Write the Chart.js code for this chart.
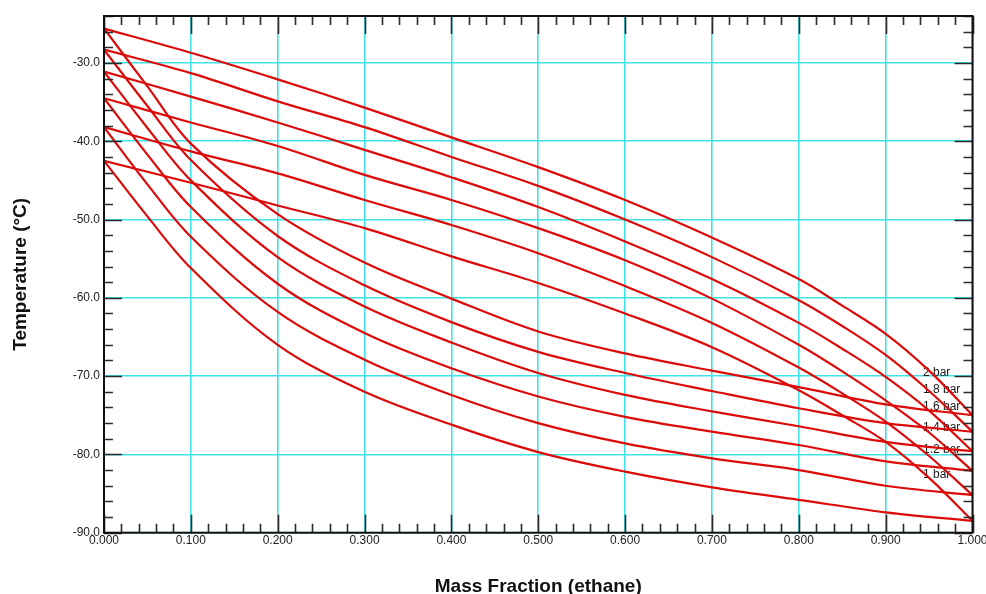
<!DOCTYPE html>
<html>
<head>
<meta charset="utf-8">
<title>Ethane / propane phase envelopes</title>
<script src="https://cdn.jsdelivr.net/npm/chart.js@4/dist/chart.umd.min.js"></script>
<style>
  html, body { margin: 0; padding: 0; background: #fff; overflow: hidden; }
  canvas { display: block; }
</style>
</head>
<body>
<canvas id="chart" width="986" height="594"></canvas>
<script>
// Mass fraction of ethane at which the curves are tabulated
const xDew    = [0, 0.1, 0.2, 0.3, 0.4, 0.5, 0.6, 0.7, 0.8, 0.85, 0.9, 0.95, 1.0];
const xBubble = [0, 0.05, 0.1, 0.2, 0.3, 0.4, 0.5, 0.6, 0.7, 0.8, 0.9, 1.0];

// Dew-point temperatures (°C), upper branch of each envelope
const dew20 = [-25.6, -28.7, -32.1, -35.7, -39.5, -43.3, -47.5, -52.3, -57.6, -61.0, -64.6, -69.3, -75.0];
const dew18 = [-28.3, -31.3, -34.9, -38.2, -42.0, -45.7, -50.0, -54.8, -60.3, -63.6, -67.3, -71.9, -77.1];
const dew16 = [-31.1, -34.3, -37.6, -41.1, -44.6, -48.4, -52.8, -57.6, -63.2, -66.5, -70.1, -74.4, -79.6];
const dew14 = [-34.5, -37.6, -40.6, -44.3, -47.5, -51.1, -55.2, -60.1, -66.0, -69.4, -73.1, -77.2, -82.1];
const dew12 = [-38.2, -41.3, -44.1, -47.5, -50.7, -54.3, -58.5, -63.2, -68.9, -72.2, -75.8, -80.2, -85.2];
const dew10 = [-42.5, -45.3, -48.2, -51.1, -54.7, -58.1, -62.0, -66.3, -71.8, -75.0, -78.4, -83.0, -88.5];

// Bubble-point temperatures (°C), lower branch of each envelope
const bub20 = [-25.6, -33.0, -40.3, -49.3, -55.5, -60.1, -64.3, -67.1, -69.3, -71.4, -73.6, -75.0];
const bub18 = [-28.3, -35.5, -42.4, -52.1, -58.4, -63.1, -66.9, -69.6, -71.9, -74.1, -76.0, -77.1];
const bub16 = [-31.1, -38.3, -45.0, -54.8, -61.1, -65.7, -69.6, -72.4, -74.5, -76.4, -78.4, -79.6];
const bub14 = [-34.5, -41.7, -48.4, -58.2, -64.5, -69.0, -72.6, -75.2, -77.1, -78.8, -80.9, -82.1];
const bub12 = [-38.2, -45.5, -52.2, -61.8, -67.9, -72.4, -76.0, -78.6, -80.5, -82.0, -84.0, -85.2];
const bub10 = [-42.5, -49.6, -56.2, -66.0, -72.0, -76.2, -79.7, -82.2, -84.2, -85.8, -87.4, -88.5];

// Pressure labels and where they sit (data units)
const pressureLabels = ['2 bar', '1.8 bar', '1.6 bar', '1.4 bar', '1.2 bar', '1 bar'];
const labelX = [0.943, 0.943, 0.943, 0.943, 0.943, 0.943];
const labelY = [-69.5, -71.7, -73.9, -76.6, -79.4, -82.6];

// Axis tick labels
const xTicks = [0, 0.1, 0.2, 0.3, 0.4, 0.5, 0.6, 0.7, 0.8, 0.9, 1.0];
const yTicks = [-90, -80, -70, -60, -50, -40, -30];

const RED = '#dd0a0a';
const FONT = "'Liberation Sans', Arial, sans-serif";

function series(xs, ys) {
  return xs.map((x, i) => ({ x: x, y: ys[i] }));
}

const curves = [
  series(xDew, dew20), series(xBubble, bub20),
  series(xDew, dew18), series(xBubble, bub18),
  series(xDew, dew16), series(xBubble, bub16),
  series(xDew, dew14), series(xBubble, bub14),
  series(xDew, dew12), series(xBubble, bub12),
  series(xDew, dew10), series(xBubble, bub10)
];

const datasets = curves.map(pts => ({
  data: pts,
  showLine: true,
  borderColor: RED,
  borderWidth: 2.2,
  pointRadius: 0,
  pointHoverRadius: 0,
  fill: false,
  tension: 0.35
}));

// Frame, inward tick marks and pressure labels
const frameTicks = {
  id: 'frameTicks',
  beforeDatasetsDraw(chart) {
    const { ctx, scales: { x, y } } = chart;
    ctx.save();
    ctx.fillStyle = '#1a1a1a';
    ctx.font = '12px ' + FONT;
    ctx.textAlign = 'left';
    ctx.textBaseline = 'middle';
    pressureLabels.forEach((t, i) => {
      ctx.fillText(t, x.getPixelForValue(labelX[i]), y.getPixelForValue(labelY[i]));
    });
    ctx.restore();
  },
  afterDatasetsDraw(chart) {
    const { ctx, chartArea: a, scales: { x, y } } = chart;
    const MAJOR = 18, MINOR = 9;
    ctx.save();
    ctx.strokeStyle = '#2a2a2a';
    ctx.lineWidth = 1.6;
    ctx.beginPath();
    for (let i = 0; i <= 50; i++) {
      const px = Math.round(x.getPixelForValue(i * 0.02)) + 0.5;
      const len = i % 5 === 0 ? MAJOR : MINOR;
      ctx.moveTo(px, a.bottom); ctx.lineTo(px, a.bottom - len);
      ctx.moveTo(px, a.top); ctx.lineTo(px, a.top + len);
    }
    for (let v = -90; v <= -24; v += 2) {
      const py = Math.round(y.getPixelForValue(v)) + 0.5;
      const len = v % 10 === 0 ? MAJOR : MINOR;
      ctx.moveTo(a.left, py); ctx.lineTo(a.left + len, py);
      ctx.moveTo(a.right, py); ctx.lineTo(a.right - len, py);
    }
    ctx.stroke();
    ctx.strokeStyle = '#111';
    ctx.lineWidth = 2;
    ctx.strokeRect(a.left, a.top, a.right - a.left, a.bottom - a.top);
    ctx.restore();
  }
};

new Chart(document.getElementById('chart'), {
  type: 'scatter',
  data: { datasets: datasets },
  options: {
    responsive: false,
    animation: false,
    devicePixelRatio: 1,
    layout: { padding: { left: 0, right: 13.5, top: 16, bottom: 0 } },
    plugins: { legend: { display: false }, tooltip: { enabled: false } },
    events: [],
    scales: {
      x: {
        type: 'linear',
        min: 0,
        max: 1,
        afterBuildTicks: s => { s.ticks = xTicks.map(v => ({ value: v })); },
        afterFit: s => { s.height = 61.3; s.paddingLeft = 0; s.paddingRight = 0; },
        grid: { color: 'rgb(64,226,232)', lineWidth: 1.6, drawTicks: false },
        border: { display: false },
        ticks: {
          padding: 1,
          color: '#222',
          font: { family: FONT, size: 12 },
          maxRotation: 0,
          autoSkip: false,
          callback: v => Number(v).toFixed(3)
        },
        title: {
          display: true,
          text: 'Mass Fraction (ethane)',
          color: '#111',
          font: { family: FONT, size: 19, weight: 'bold', lineHeight: 1 },
          padding: { top: 0, bottom: -2 }
        }
      },
      y: {
        type: 'linear',
        min: -90,
        max: -24,
        afterBuildTicks: s => { s.ticks = yTicks.map(v => ({ value: v })); },
        afterFit: s => { s.width = 104; s.paddingTop = 0; s.paddingBottom = 0; },
        grid: { color: 'rgb(64,226,232)', lineWidth: 1.6, drawTicks: false },
        border: { display: false },
        ticks: {
          padding: 4,
          color: '#222',
          font: { family: FONT, size: 12 },
          autoSkip: false,
          callback: v => Number(v).toFixed(1)
        },
        title: {
          display: true,
          text: 'Temperature (°C)',
          color: '#111',
          font: { family: FONT, size: 19, weight: 'bold', lineHeight: 1 },
          padding: { top: 11, bottom: 0 }
        }
      }
    }
  },
  plugins: [frameTicks]
});
</script>
</body>
</html>
